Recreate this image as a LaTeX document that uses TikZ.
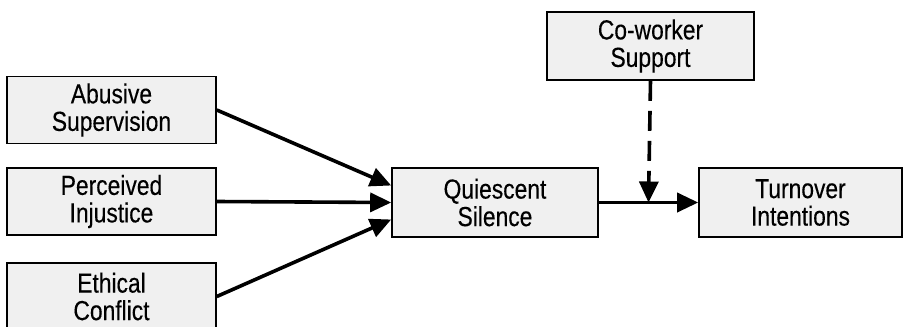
\documentclass[tikz,border=0pt]{standalone}
\usepackage{fontspec}
\setmainfont{Liberation Sans}[FakeStretch=0.83,FakeBold=0.3]
\usetikzlibrary{arrows.meta,calc}
\begin{document}
\begin{tikzpicture}[x=1pt,y=-1pt,
  box/.style={draw=black,line width=1.6pt,fill=black!6,minimum width=209pt,minimum height=67pt,
    align=center,inner sep=0pt,font=\fontsize{27.5}{27.5}\selectfont},
  link/.style={line width=3.6pt,-{Triangle[length=21pt,width=19pt]}},
  modlink/.style={link,dash pattern=on 20pt off 10pt}]
\useasboundingbox (0,0) rectangle (906,327);
\node[box] (abs) at (111.5,110) {Abusive\\Supervision};
\node[box] (inj) at (111.5,201.5) {Perceived\\Injustice};
\node[box] (eth) at (111.5,296.5) {Ethical\\Conflict};
\node[box,minimum width=206pt,minimum height=69pt] (qs) at (495,202.5) {Quiescent\\Silence};
\node[box,minimum width=203pt,minimum height=69pt] (ti) at (800.5,202.5) {Turnover\\Intentions};
\node[box,minimum width=207pt,minimum height=68pt] (cw) at (650.5,46) {Co-worker\\Support};
\coordinate (mid) at ($(qs.east)!0.5!(ti.west)$);
\draw[link] (abs.east) -- ([yshift=17pt]qs.west);
\draw[link] (inj.east) -- (qs.west);
\draw[link] (eth.east) -- ([yshift=-17pt]qs.west);
\draw[link] (qs.east) -- (ti.west);
\draw[modlink] (cw.south) -- (mid);
\end{tikzpicture}
\end{document}
